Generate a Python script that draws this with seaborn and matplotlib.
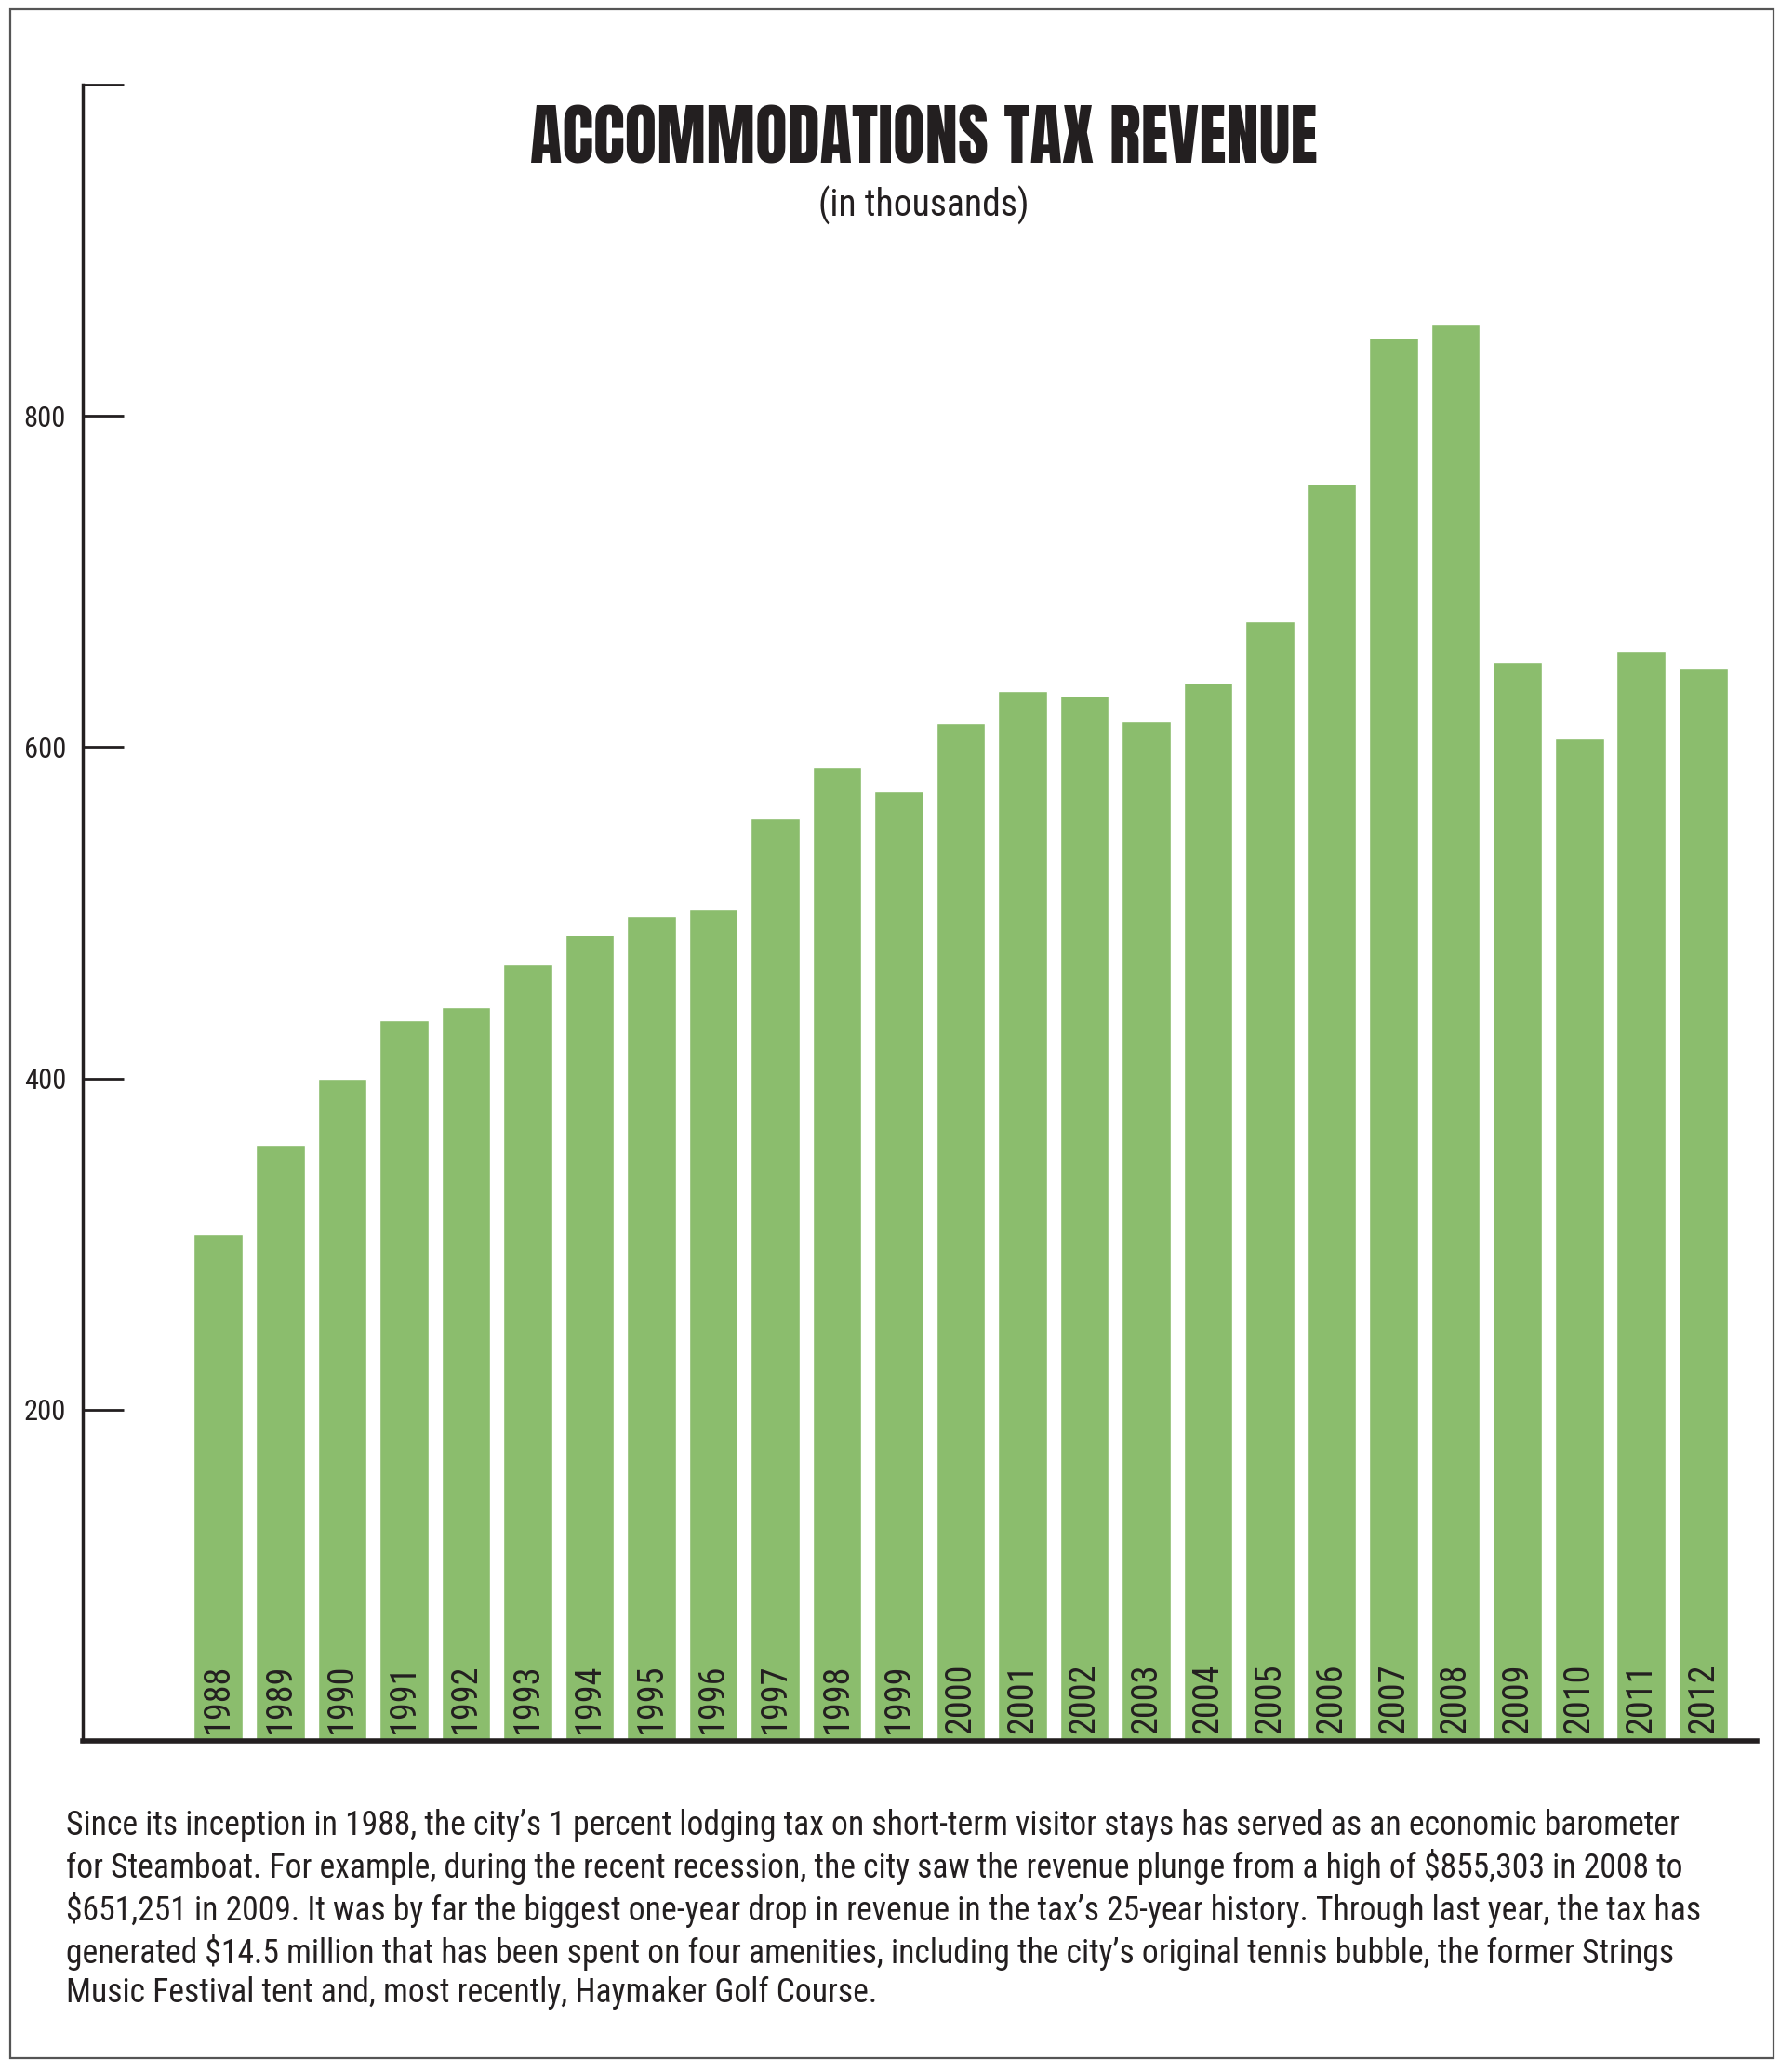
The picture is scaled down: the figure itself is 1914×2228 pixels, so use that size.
import matplotlib
matplotlib.use("Agg")
import matplotlib.pyplot as plt
from matplotlib.patches import Rectangle
import seaborn as sns
import pandas as pd

years = [str(y) for y in range(1988, 2013)]
revenue = [306, 360, 400, 435, 443, 469, 487, 498, 502, 557, 588, 573, 614,
           634, 631, 616, 639, 676, 759, 847, 855, 651, 605, 658, 648]
ytick_vals = [200, 400, 600, 800, 1000]
ytick_text = ["200", "400", "600", "800", ""]

title = "ACCOMMODATIONS TAX REVENUE"
subtitle = "(in thousands)"
caption = ("Since its inception in 1988, the city\u2019s 1 percent lodging tax on short-term visitor stays has served as an economic barometer\n"
           "for Steamboat. For example, during the recent recession, the city saw the revenue plunge from a high of $855,303 in 2008 to\n"
           "$651,251 in 2009. It was by far the biggest one-year drop in revenue in the tax\u2019s 25-year history. Through last year, the tax has\n"
           "generated $14.5 million that has been spent on four amenities, including the city\u2019s original tennis bubble, the former Strings\n"
           "Music Festival tent and, most recently, Haymaker Golf Course.")

df = pd.DataFrame({"year": years, "revenue": revenue})

sns.set_theme(style="white")
body_font = ["Roboto Condensed", "DejaVu Sans"]
title_font = ["Anton", "Roboto Condensed", "DejaVu Sans"]
plt.rcParams["font.family"] = body_font
ink = "#231f20"
green = "#8bbd6d"

fig = plt.figure(figsize=(19.15, 22.28), dpi=100)
ax = fig.add_axes([0.0465, 0.1598, 0.94, 0.7994])

sns.barplot(data=df, x="year", y="revenue", color=green, width=0.79,
            saturation=1, ax=ax)

ax.set_xlim(-2.19, 24.87)
ax.set_ylim(0, 1000)
ax.set_xticks([])
ax.set_yticks(ytick_vals)
ax.set_yticklabels(ytick_text)
ax.tick_params(axis="y", direction="in", length=32, width=2, colors=ink,
               labelsize=22, pad=13, left=True)
ax.set_xlabel("")
ax.set_ylabel("")
for s in ["top", "right"]:
    ax.spines[s].set_visible(False)
ax.spines["left"].set_color(ink)
ax.spines["left"].set_linewidth(2.5)
ax.spines["bottom"].set_color(ink)
ax.spines["bottom"].set_linewidth(4)

for i, yr in enumerate(years):
    ax.annotate(yr, (i, 0), xytext=(0, 6), textcoords="offset points",
                rotation=90, ha="center", va="bottom", fontsize=27.5, color=ink)

fig.text(0.5186, 0.933, title, ha="center", va="center", fontsize=51,
         family=title_font, color=ink)
fig.text(0.5186, 0.901, subtitle, ha="center", va="center", fontsize=28.5,
         color=ink)
fig.text(0.037, 0.127, caption, ha="left", va="top", fontsize=25.7,
         color=ink, linespacing=1.22)

fig.patches.append(Rectangle((0.0057, 0.0067), 0.9901, 0.9888,
                             transform=fig.transFigure, fill=False,
                             edgecolor="#555555", linewidth=1.6))

fig.savefig("out.png", dpi=100)
